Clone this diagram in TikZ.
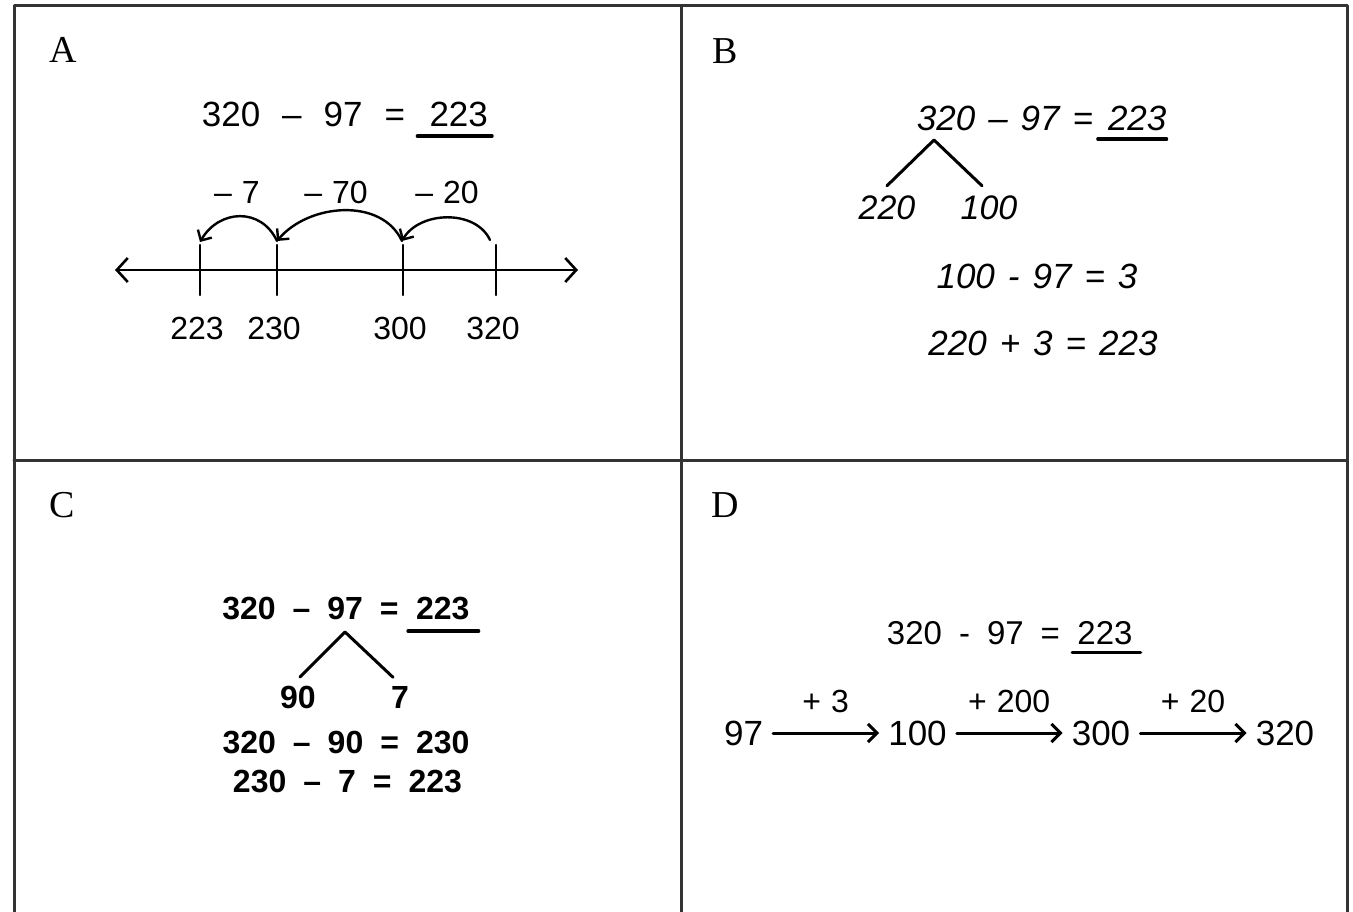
\documentclass[tikz,border=0pt]{standalone}
\usepackage{fontspec}
\setmainfont{Liberation Serif}
\newfontfamily\hand{Liberation Sans}
\usetikzlibrary{arrows.meta,positioning}
\begin{document}
\begin{tikzpicture}[x=1pt, y=-1pt, line join=round, line cap=round,
	frame/.style={line width=3pt, draw=black!80},
	panel/.style={inner sep=0pt, font=\fontsize{38}{40}\selectfont},
	eqA/.style={inner sep=0pt, font=\hand\fontsize{35}{40}\selectfont\spaceskip 22pt\relax},
	eqB/.style={inner sep=0pt, font=\hand\itshape\fontsize{35}{40}\selectfont\spaceskip 13pt\relax},
	leafB/.style={inner sep=0pt, font=\hand\itshape\fontsize{34}{38}\selectfont},
	eqC/.style={inner sep=0pt, font=\hand\bfseries\fontsize{32}{36}\selectfont\spaceskip 17pt\relax},
	eqD/.style={inner sep=0pt, font=\hand\fontsize{33}{38}\selectfont\spaceskip 17pt\relax},
	num/.style={inner sep=0pt, font=\hand\fontsize{35}{38}\selectfont},
	lab/.style={inner sep=0pt, font=\hand\fontsize{32}{36}\selectfont\spaceskip 10pt\relax},
	uline/.style={line width=3.2pt},
	nline/.style={line width=2.6pt, {Straight Barb[length=11pt,width=24pt]}-{Straight Barb[length=11pt,width=24pt]}},
	tickmark/.style={line width=2.2pt},
	jump/.style={line width=2.4pt, -{Straight Barb[length=8pt,width=16pt]}},
	branch/.style={line width=3pt},
	chain/.style={line width=3pt, -{Straight Barb[length=9pt,width=18pt]}, shorten <=10pt, shorten >=9pt}]
	\useasboundingbox (0,0) rectangle (1353,912);
	\draw[frame] (14,912) -- (14,6) -- (1347,6) -- (1347,912);
	\draw[frame] (681,6) -- (681,912);
	\draw[frame] (14,460) -- (1347,460);
	% A
	\node[panel] (labA) at (63,50) {A};
	\node[eqA] (eqA) at (303.5,114) {320 – 97 =};
	\node[eqA, right=24pt of eqA] (ansA) {223};
	\draw[uline] ([xshift=-12pt,yshift=-9.5pt]ansA.south west) -- ([xshift=4pt,yshift=-9.5pt]ansA.south east);
	\draw[nline] (115,270) -- (578,270);
	\foreach \v/\x in {223/200, 230/277, 300/403, 320/496} {
		\draw[tickmark] (\x,245) -- (\x,295);
		\node[lab] (t\v) at (\x-3,328) {\v};
	}
	\coordinate (j320) at (490,240);
	\coordinate (j300) at (402,241);
	\coordinate (j230) at (277,241);
	\coordinate (j223) at (200,242);
	\draw[jump] (j320) to[out=115,in=60] (j300);
	\draw[jump] (j300) to[out=115,in=50] (j230);
	\draw[jump] (j230) to[out=115,in=60,looseness=1.25] (j223);
	\node[lab] (m7) at (237,192) {– 7};
	\node[lab] (m70) at (336,192) {– 70};
	\node[lab] (m20) at (447,192) {– 20};
	% B
	\node[panel] (labB) at (725,51) {B};
	\node[eqB] (eqB) at (1005,118) {320 – 97 =};
	\node[eqB, right=14.5pt of eqB] (ansB) {223};
	\draw[uline] ([xshift=-10pt,yshift=-8.5pt]ansB.south west) -- ([yshift=-8.5pt]ansB.south east);
	\coordinate (topB) at (934,140);
	\node[leafB] (l220) at (887,208) {220};
	\node[leafB] (l100) at (989,208) {100};
	\draw[branch] ([yshift=10pt]l220.north) -- (topB) -- ([xshift=-7pt,yshift=10pt]l100.north);
	\node[eqB] (stepB1) at (1037,276) {100 - 97 = 3};
	\node[eqB] (stepB2) at (1043,343) {220 + 3 = 223};
	% C
	\node[panel] (labC) at (62,505) {C};
	\node[eqC] (eqC) at (310.5,609) {320 – 97 =};
	\node[eqC, right=17pt of eqC] (ansC) {223};
	\draw[uline] ([xshift=-8pt,yshift=-10.5pt]ansC.south west) -- ([xshift=9pt,yshift=-10.5pt]ansC.south east);
	\coordinate (topC) at (345,632);
	\node[eqC] (l90) at (298,697) {90};
	\node[eqC] (l7) at (400,697) {7};
	\draw[branch] ([xshift=2pt,yshift=8.5pt]l90.north) -- (topC) -- ([xshift=-7pt,yshift=8.5pt]l7.north);
	\node[eqC] (stepC1) at (346,743) {320 – 90 = 230};
	\node[eqC] (stepC2) at (347.5,782) {230 – 7 = 223};
	% D
	\node[panel] (labD) at (725,505) {D};
	\node[eqD] (eqD) at (973.5,633) {320 - 97 =};
	\node[eqD, right=17pt of eqD] (ansD) {223};
	\draw[uline] ([xshift=-5pt,yshift=-8pt]ansD.south west) -- ([xshift=8pt,yshift=-8pt]ansD.south east);
	\node[num] (n97) at (743.5,733) {97};
	\node[num] (n100) at (917.5,733) {100};
	\node[num] (n300) at (1101,733) {300};
	\node[num] (n320) at (1285,733) {320};
	\draw[chain] (n97) -- node[lab, midway, above=19pt] (p3) {+ 3} (n100);
	\draw[chain] (n100) -- node[lab, midway, above=19pt] (p200) {+ 200} (n300);
	\draw[chain] (n300) -- node[lab, midway, above=19pt] (p20) {+ 20} (n320);
\end{tikzpicture}
\end{document}
